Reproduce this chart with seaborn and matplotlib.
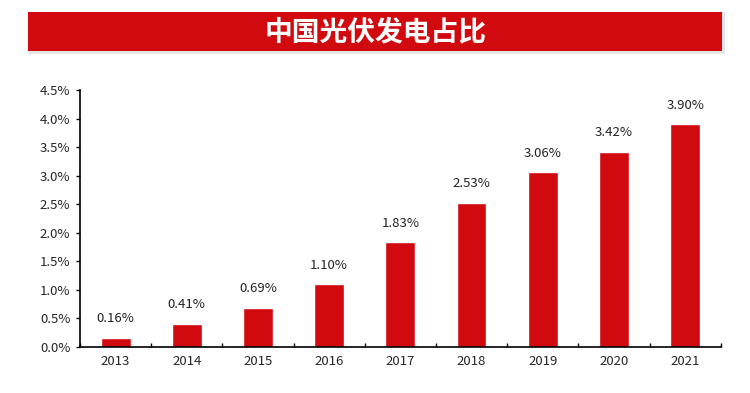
import numpy as np
import pandas as pd
import matplotlib as mpl
import matplotlib.pyplot as plt
import seaborn as sns
from matplotlib.patches import Rectangle

sns.set_style('white')
mpl.rcParams['font.family'] = ['Noto Sans CJK SC', 'DejaVu Sans']
mpl.rcParams['axes.unicode_minus'] = False

# 数据
years = ['2013', '2014', '2015', '2016', '2017', '2018', '2019', '2020', '2021']
share = [0.16, 0.41, 0.69, 1.10, 1.83, 2.53, 3.06, 3.42, 3.90]
labels = ['0.16%', '0.41%', '0.69%', '1.10%', '1.83%', '2.53%', '3.06%', '3.42%', '3.90%']
yticks = [0, 0.5, 1.0, 1.5, 2.0, 2.5, 3.0, 3.5, 4.0, 4.5]

df = pd.DataFrame({'year': years, 'share': share})
red = '#D10A10'

fig = plt.figure(figsize=(7.5, 3.93), dpi=100)

# 标题红色横幅（带浅灰阴影）
shadow = Rectangle((28 / 750, 1 - 54 / 393), 697 / 750, 42 / 393, transform=fig.transFigure,
                   facecolor='#e6e6e6', edgecolor='none', zorder=0)
fig.patches.append(shadow)
banner = Rectangle((28 / 750, 1 - 51 / 393), 694 / 750, 39 / 393, transform=fig.transFigure,
                   facecolor=red, edgecolor='none', zorder=1)
fig.patches.append(banner)
fig.text(376 / 750, 1 - 32 / 393, '中国光伏发电占比', color='white', fontsize=20,
         fontweight='bold', ha='center', va='center')

ax = fig.add_axes([80 / 750, 46 / 393, 640.7 / 750, 257 / 393])
sns.barplot(data=df, x='year', y='share', color=red, width=0.42, ax=ax, saturation=1)

for i, (v, lab) in enumerate(zip(share, labels)):
    ax.text(i, v + 0.22, lab, ha='center', va='bottom', fontsize=9.5, color='#222222')

ax.set_xlim(-0.5, 8.5)
ax.set_ylim(0, 4.5)
ax.set_yticks(yticks)
ax.set_yticklabels([f'{t:.1f}%' for t in yticks], fontsize=9.5)
ax.tick_params(axis='y', left=True, direction='out', length=3, width=1, color='black', pad=4)
ax.tick_params(axis='x', which='major', bottom=True, length=0, labelsize=9.5, pad=6)
ax.set_xticks(np.arange(-0.5, 9, 1), minor=True)
ax.tick_params(axis='x', which='minor', bottom=True, direction='in', length=3, width=1, color='black')
ax.set_xlabel('')
ax.set_ylabel('')

for s in ['top', 'right']:
    ax.spines[s].set_visible(False)
for s in ['left', 'bottom']:
    ax.spines[s].set_color('black')
    ax.spines[s].set_linewidth(1.2)

fig.savefig('out.png', dpi=100)
